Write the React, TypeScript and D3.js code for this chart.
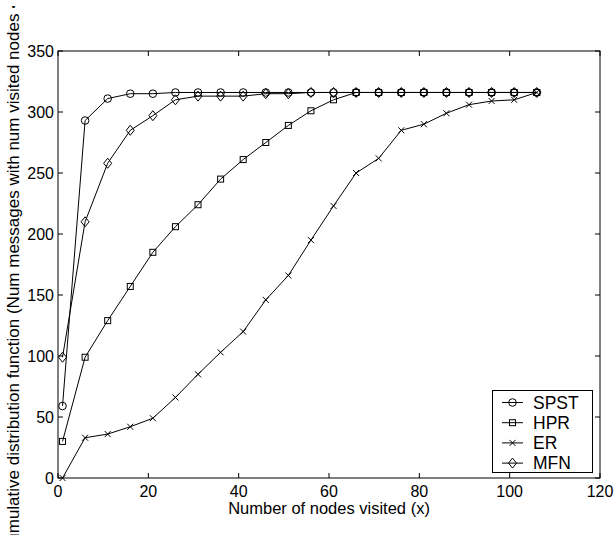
import React from 'react';
import * as d3 from 'd3';

const nodes = [1, 6, 11, 16, 21, 26, 31, 36, 41, 46, 51, 56, 61, 66, 71, 76, 81, 86, 91, 96, 101, 106];
const spst = [59, 293, 311, 315, 315, 316, 316, 316, 316, 316, 316, 316, 316, 316, 316, 316, 316, 316, 316, 316, 316, 316];
const hpr = [30, 99, 129, 157, 185, 206, 224, 245, 261, 275, 289, 301, 310, 316, 316, 316, 316, 316, 316, 316, 316, 316];
const er = [0, 33, 36, 42, 49, 66, 85, 103, 120, 146, 166, 195, 223, 250, 262, 285, 290, 299, 306, 309, 310, 316];
const mfn = [99, 210, 258, 285, 297, 310, 313, 313, 313, 315, 315, 316, 316, 316, 316, 316, 316, 316, 316, 316, 316, 316];
const seriesNames = ['SPST', 'HPR', 'ER', 'MFN'];
const xTicks = [0, 20, 40, 60, 80, 100, 120];
const yTicks = [0, 50, 100, 150, 200, 250, 300, 350];

const font = '"Liberation Sans", Arial, Helvetica, sans-serif';

const Marker = ({ kind, x, y }: { kind: string; x: number; y: number }) => {
  if (kind === 'SPST') return <circle cx={x} cy={y} r={3.8} fill="none" stroke="#000" />;
  if (kind === 'HPR') return <rect x={x - 3} y={y - 3} width={6} height={6} fill="none" stroke="#000" />;
  if (kind === 'ER')
    return <path d={`M${x - 3},${y - 3}L${x + 3},${y + 3}M${x - 3},${y + 3}L${x + 3},${y - 3}`} stroke="#000" />;
  return <path d={`M${x},${y - 5}L${x + 4},${y}L${x},${y + 5}L${x - 4},${y}Z`} fill="none" stroke="#000" />;
};

const App = () => {
  const width = 615;
  const height = 535;
  const left = 58, right = 600, top = 51, bottom = 478;
  const x = d3.scaleLinear().domain([0, 120]).range([left, right]);
  const y = d3.scaleLinear().domain([0, 350]).range([bottom, top]);
  const line = d3.line<number>().x((d, i) => x(nodes[i])).y(d => y(d));
  const all = [spst, hpr, er, mfn];
  const tl = 5;

  return (
    <div style={{ position: 'fixed', left: 0, top: 0 }}>
      <svg width={width} height={height} style={{ display: 'block', background: '#fff' }} fontFamily={font}>
        <defs>
          <clipPath id="ylab-clip">
            <rect x={0} y={6} width={50} height={529} />
          </clipPath>
        </defs>
        {all.map((s, k) => (
          <g key={k}>
            <path d={line(s) || ''} fill="none" stroke="#000" strokeWidth={1} />
            {s.map((v, i) => (
              <Marker key={i} kind={seriesNames[k]} x={x(nodes[i])} y={y(v)} />
            ))}
          </g>
        ))}
        <rect x={left} y={top} width={right - left} height={bottom - top} fill="none" stroke="#000" strokeWidth={1} />
        {xTicks.map(t => (
          <g key={'x' + t}>
            <line x1={x(t)} x2={x(t)} y1={bottom} y2={bottom - tl} stroke="#000" />
            <line x1={x(t)} x2={x(t)} y1={top} y2={top + tl} stroke="#000" />
            <text x={x(t)} y={496.5} fontSize={16} textAnchor="middle">{t}</text>
          </g>
        ))}
        {yTicks.map(t => (
          <g key={'y' + t}>
            <line x1={left} x2={left + tl} y1={y(t)} y2={y(t)} stroke="#000" />
            <line x1={right} x2={right - tl} y1={y(t)} y2={y(t)} stroke="#000" />
            <text x={54} y={y(t) + 5.5} fontSize={16} textAnchor="end">{t}</text>
          </g>
        ))}
        <text x={(left + right) / 2} y={513.5} fontSize={16.5} textAnchor="middle">
          Number of nodes visited (x)
        </text>
        <g clipPath="url(#ylab-clip)">
          <text transform="translate(19,555) rotate(-90)" fontSize={17} textAnchor="start">
            Cumulative distribution function (Num messages with num visited nodes &lt;= x)
          </text>
        </g>
        <g>
          <rect x={492.5} y={390.5} width={100} height={82} fill="#fff" stroke="#000" />
          {seriesNames.map((n, i) => {
            const ly = 402.5 + i * 20.2;
            return (
              <g key={n}>
                <line x1={502} x2={523} y1={ly} y2={ly} stroke="#000" />
                <Marker kind={n} x={512.5} y={ly} />
                <text x={533} y={ly + 6} fontSize={17.5}>{n}</text>
              </g>
            );
          })}
        </g>
      </svg>
    </div>
  );
};

export default App;
